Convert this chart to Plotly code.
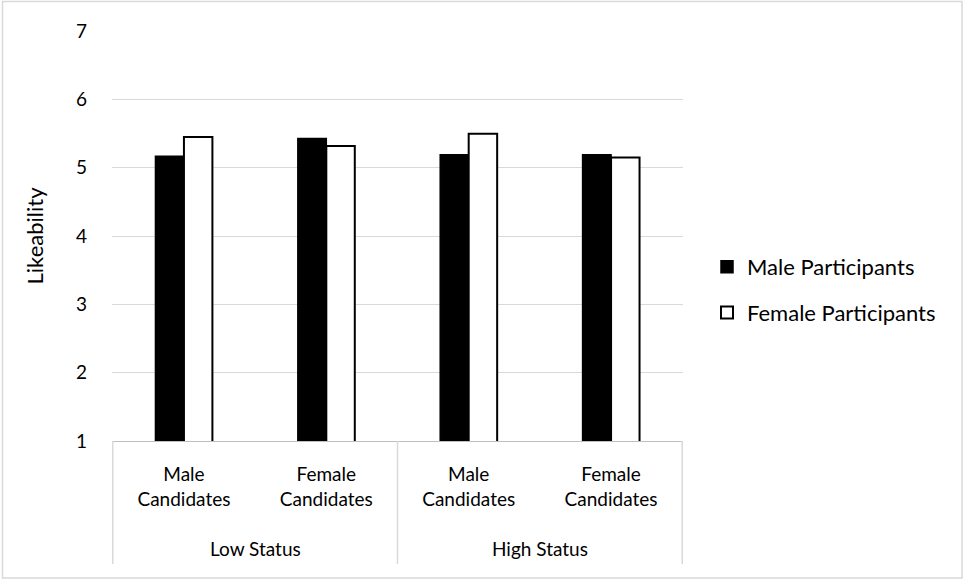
import plotly.graph_objects as go

# Likeability ratings by candidate status and gender
status_groups = ["Low Status", "High Status"]
status = ["Low Status", "Low Status", "High Status", "High Status"]
candidates = ["Male<br>Candidates", "Female<br>Candidates",
              "Male<br>Candidates", "Female<br>Candidates"]
male_participants = [5.17, 5.43, 5.19, 5.19]
female_participants = [5.45, 5.32, 5.50, 5.15]
y_ticks = [1, 2, 3, 4, 5, 6, 7]

# Unique category keys; the axis shows the candidate labels
keys = [f"{s} / {c}" for s, c in zip(status, candidates)]

W, H = 964, 581
L, R, T, B = 112, 281, 31, 140
pw, ph = W - L - R, H - T - B

font = dict(family="Lato, 'Open Sans', sans-serif", size=19, color="#000000")


def px_x(p):
    return (p - L) / pw


def px_y(p):
    return (H - B - p) / ph


fig = go.Figure()
fig.add_trace(go.Bar(
    x=keys, y=male_participants,
    name="Male Participants", legendgroup="m",
    marker=dict(color="#000000", line=dict(color="#000000", width=1.5)),
))
fig.add_trace(go.Bar(
    x=keys, y=female_participants,
    name="Female Participants", legendgroup="f",
    marker=dict(color="#ffffff", line=dict(color="#000000", width=2)),
))

# Group dividers below the axis and the status labels between them
n = len(keys)
per_group = n // len(status_groups)
for i in range(len(status_groups) + 1):
    xd = i * per_group - 0.5
    fig.add_shape(type="line", xref="x", yref="paper",
                  x0=xd, x1=xd, y0=0, y1=px_y(564),
                  line=dict(color="#d9d9d9", width=1.5))
for g, name in enumerate(status_groups):
    fig.add_annotation(x=g * per_group + (per_group - 1) / 2, xref="x",
                       y=px_y(548), yref="paper", text=name,
                       showarrow=False, yanchor="middle",
                       font=dict(size=19))

# Light frame around the whole chart area
fig.add_shape(type="rect", xref="paper", yref="paper",
              x0=px_x(2.5), x1=px_x(962), y0=px_y(578), y1=px_y(1.5),
              line=dict(color="#d9d9d9", width=1.5), fillcolor="rgba(0,0,0,0)",
              layer="below")

fig.update_layout(
    width=W, height=H,
    margin=dict(l=L, r=R, t=T, b=B),
    paper_bgcolor="#ffffff", plot_bgcolor="#ffffff",
    font=font,
    barmode="group", bargap=0.6, bargroupgap=0,
    legend=dict(x=px_x(707), y=px_y(290), xanchor="left", yanchor="middle",
                tracegroupgap=14, font=dict(size=22),
                itemwidth=30),
    showlegend=True,
)
fig.update_yaxes(
    range=[1, 7.003], tickvals=y_ticks, showgrid=True,
    gridcolor="#d9d9d9", gridwidth=1, zeroline=False, showline=False,
    ticks="", ticklabelstandoff=24,
    title=dict(text="Likeability", font=dict(size=22), standoff=26),
)
fig.update_xaxes(
    type="category", tickvals=keys, ticktext=candidates,
    showline=True, linecolor="#bfbfbf", linewidth=1, showgrid=False,
    ticks="", tickfont=dict(size=19), ticklabelstandoff=16,
)

fig.write_html("out.html")
